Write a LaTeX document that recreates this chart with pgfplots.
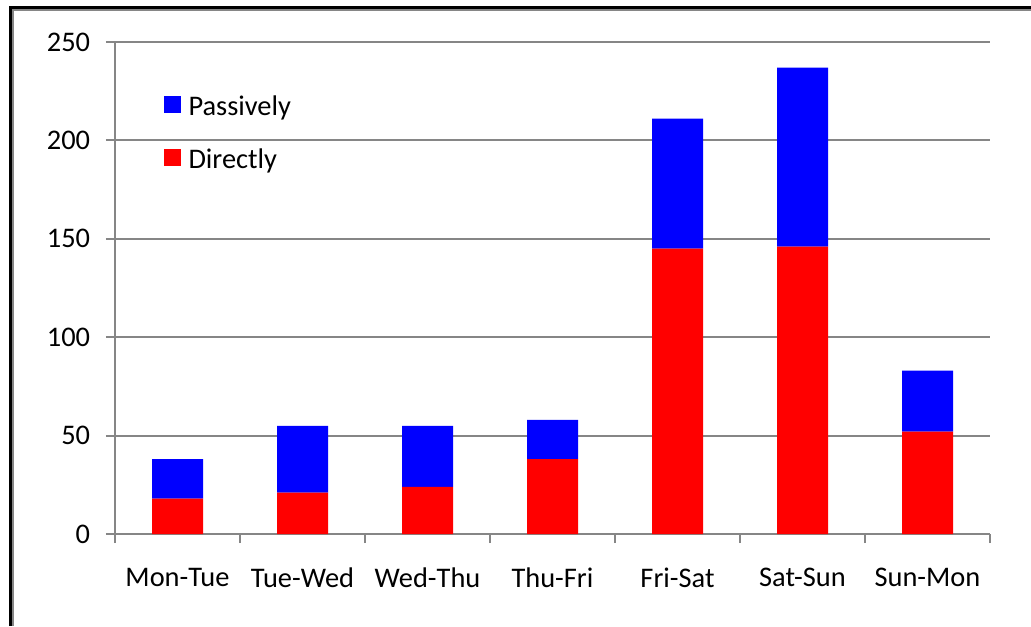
\documentclass[border=0pt]{standalone}
\usepackage{fontspec}
\setmainfont{Carlito}
\usepackage{pgfplots}
\pgfplotsset{compat=1.18}
\definecolor{gridgray}{RGB}{134,134,134}
\definecolor{barblue}{RGB}{0,0,255}
\definecolor{barred}{RGB}{255,0,0}

\begin{document}
\begin{tikzpicture}[x=1pt,y=1pt]
\path[use as bounding box] (0,0) rectangle (515.5,313);
\fill[white] (0,0) rectangle (515.5,313);
% chart frame: dark outer edge with a grey inner edge
\draw[black, line width=1.5pt] (5,0) -- (5,309.25) -- (515.5,309.25);
\draw[gridgray, line width=1pt] (6.6,0) -- (6.6,307.9) -- (515.5,307.9);
\begin{axis}[
  at={(57.5pt,46pt)}, anchor=south west,
  scale only axis, width=437.5pt, height=246pt,
  font=\fontsize{14.2}{17}\selectfont,
  /pgf/number format/assume math mode=true,
  ybar stacked, bar width=25.5pt,
  xmin=-0.5, xmax=6.5, ymin=0, ymax=250,
  ytick={0,50,...,250},
  xtick={-0.5,0.5,...,6.5},
  xticklabels={},
  extra x ticks={0,1,2,3,4,5,6},
  extra x tick labels={Mon-Tue,Tue-Wed,Wed-Thu,Thu-Fri,Fri-Sat,Sat-Sun,Sun-Mon},
  extra x tick style={major tick length=0pt, tick label style={yshift=-13.5pt}},
  axis lines*=left,
  axis line style={gridgray, line width=1pt, -},
  ymajorgrids, grid style={gridgray, line width=1pt},
  tick align=outside,
  major tick length=4.5pt,
  tick style={gridgray, line width=1pt},
  yticklabel style={xshift=-4.4pt},
  legend style={at={(0.055,0.891)}, anchor=north west, draw=none, fill=none,
    inner sep=0pt, column sep=0pt,
    nodes={inner sep=0pt}},
  legend style={/tikz/row sep=15pt},
  legend cell align=left,
  reverse legend,
  legend image code/.code={\fill[#1] (0pt,-3pt) rectangle (8.5pt,5.5pt); \path (12.5pt,0pt);},
]
\addplot[fill=barred, draw=none] coordinates {(0,18) (1,21) (2,24) (3,38) (4,145) (5,146) (6,52)};
\addplot[fill=barblue, draw=none] coordinates {(0,20) (1,34) (2,31) (3,20) (4,66) (5,91) (6,31)};
\legend{Directly,Passively}
\end{axis}
\end{tikzpicture}
\end{document}
